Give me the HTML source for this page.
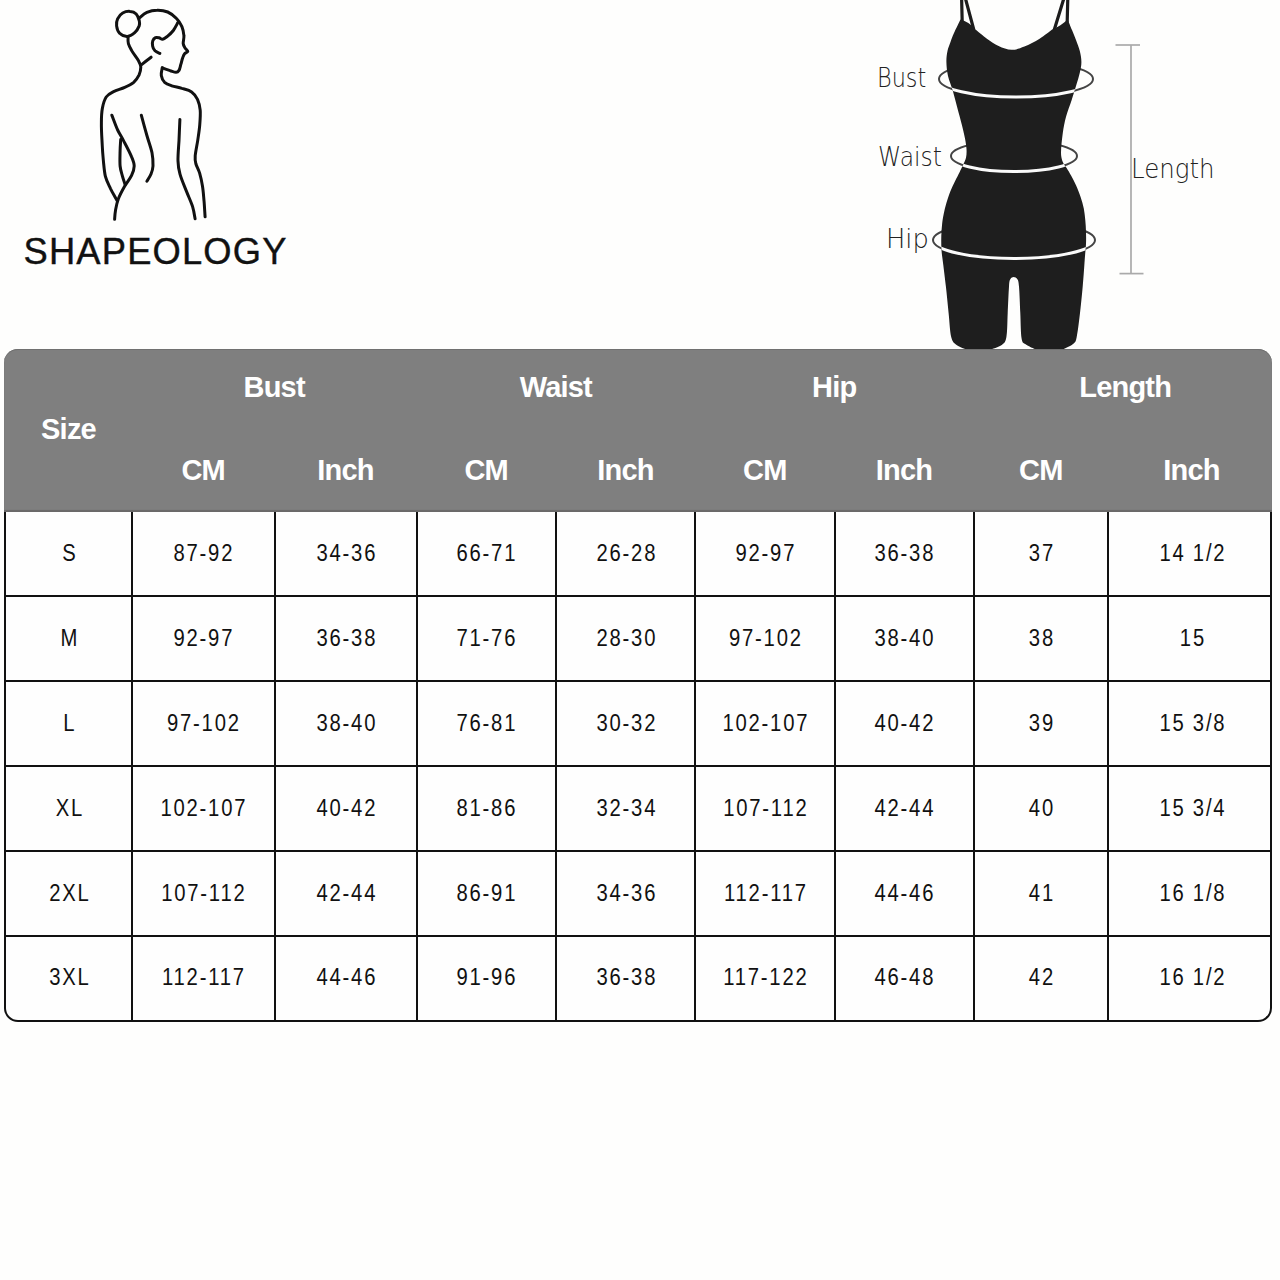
<!DOCTYPE html>
<html><head><meta charset="utf-8"><title>Shapeology Size Chart</title>
<style>
html,body{margin:0;padding:0;}
body{width:1280px;height:1280px;position:relative;overflow:hidden;background:#fefefd;font-family:"Liberation Sans",Arial,sans-serif;}
.abs{position:absolute;}
#logo{position:absolute;left:0;top:0;width:400px;height:300px;}
#brand{position:absolute;left:23.5px;top:231.7px;font-size:36.3px;letter-spacing:1.2px;color:#111;-webkit-text-stroke:0.4px #111;line-height:40px;white-space:nowrap;}
#figure{position:absolute;left:0;top:0;width:1280px;height:360px;}
.lbl{position:absolute;transform-origin:0 0;font-family:"DejaVu Sans",sans-serif;font-weight:200;font-size:26px;color:#222;line-height:30px;white-space:nowrap;}
#table{position:absolute;left:0;top:0;width:1280px;height:1280px;}
#thead{position:absolute;left:4px;top:349px;width:1268px;height:163px;background:#7f7f7f;border-radius:14px 14px 0 0;box-shadow:inset 0 1px 0 #707070, inset 0 -2px 1px #6a6969;}
#tbody{position:absolute;left:4px;top:512px;width:1264px;height:507.5px;border:2px solid #111;border-top:0;border-radius:0 0 14px 14px;background:#fefefe;}
.vl{position:absolute;top:512px;width:2px;height:508.5px;background:#111;}
.hl{position:absolute;left:5px;width:1266px;height:2px;background:#111;}
.th{position:absolute;width:120px;height:30px;line-height:30px;text-align:center;color:#fff;font-weight:700;font-size:29px;letter-spacing:-0.8px;}
.td{position:absolute;width:120px;height:30px;line-height:30px;text-align:center;color:#111;font-size:23px;letter-spacing:2px;text-indent:2px;transform:scaleX(0.88);}
</style></head>
<body>
<svg id="logo" viewBox="0 0 400 300" fill="none" stroke="#111" stroke-width="3" stroke-linecap="round" stroke-linejoin="round"><path d="M139.3,20.8 C138.8,18.8 137.7,15.6 136.2,14.0 C134.7,12.4 132.4,11.5 130.1,11.4 C127.9,11.2 124.8,11.8 122.7,13.0 C120.6,14.2 118.6,16.6 117.6,18.8 C116.6,20.9 116.3,23.5 116.6,25.9 C116.9,28.3 117.9,31.6 119.7,33.3 C121.5,35.1 124.9,36.5 127.4,36.4 C129.9,36.3 132.7,34.4 134.7,32.7 C136.7,31.0 138.4,27.9 139.2,25.9 C139.9,23.9 139.7,22.8 139.3,20.8Z"/><path d="M139.4,18.1 C140.6,17.1 143.9,13.7 146.9,12.4 C149.8,11.1 153.6,10.2 157.0,10.2 C160.5,10.1 164.4,10.6 167.7,12.0 C170.9,13.4 174.2,16.0 176.5,18.5 C178.9,20.9 180.7,23.8 181.9,26.6 C183.1,29.5 183.7,32.7 183.9,35.5 C184.2,38.4 183.1,41.4 183.2,43.5 C183.4,45.5 184.2,46.6 185.0,47.9 C185.7,49.2 187.9,50.3 187.8,51.3 C187.7,52.3 185.3,52.7 184.5,53.8 C183.6,55.0 183.2,56.4 182.6,58.1 C182.0,59.8 181.5,62.1 180.9,64.2 C180.3,66.2 179.8,69.0 179.0,70.4 C178.2,71.7 177.6,72.3 176.1,72.3 C174.7,72.4 172.5,71.4 170.2,70.7 C167.9,69.9 163.6,68.3 162.3,67.8"/><path d="M162.3,67.8 C162.1,69.1 160.9,73.0 161.3,75.4 C161.7,77.8 162.9,80.5 164.6,82.3 C166.4,84.0 168.9,84.8 171.8,85.8 C174.6,86.8 178.6,87.3 181.9,88.4 C185.2,89.4 189.0,90.1 191.6,91.9 C194.2,93.7 196.0,96.3 197.5,99.3 C198.9,102.4 199.8,105.8 200.2,110.2 C200.6,114.5 200.1,120.3 199.7,125.4 C199.3,130.5 198.4,135.5 197.7,140.6 C196.9,145.7 195.5,152.1 195.2,155.9 C194.9,159.7 195.1,160.6 195.8,163.5 C196.6,166.4 198.6,169.5 199.7,173.3 C200.8,177.1 201.8,181.6 202.5,186.3 C203.3,191.0 203.6,196.5 204.1,201.6 C204.5,206.6 204.9,214.3 205.1,216.8"/><path d="M177.9,22.5 C177.1,23.9 175.0,28.2 173.3,30.5 C171.5,32.8 169.2,34.9 167.4,36.4 C165.6,37.8 164.1,39.0 162.7,39.2 C161.3,39.4 160.3,38.1 159.1,37.8 C157.9,37.5 156.6,37.1 155.5,37.6 C154.5,38.1 153.3,39.4 152.8,40.8 C152.3,42.2 152.2,44.2 152.6,45.9 C152.9,47.6 153.8,49.5 155.0,50.8 C156.2,52.0 159.1,53.0 159.9,53.4"/><path d="M128.1,36.4 C128.1,37.6 127.7,41.2 128.4,43.7 C129.1,46.2 130.5,48.4 132.1,51.3 C133.8,54.1 137.1,58.1 138.5,60.7 C140.0,63.4 140.7,64.6 140.8,67.0 C140.8,69.4 140.1,72.6 139.0,75.2 C137.8,77.7 136.0,80.2 133.7,82.3 C131.3,84.3 128.1,85.8 124.7,87.3 C121.4,88.9 116.6,90.0 113.6,91.6 C110.5,93.2 108.1,94.2 106.2,97.0 C104.4,99.7 103.2,103.9 102.4,108.1 C101.6,112.4 101.4,116.9 101.4,122.3 C101.3,127.8 101.6,134.2 102.0,140.6 C102.3,147.1 102.8,155.0 103.4,160.9 C104.0,166.9 104.3,171.8 105.4,176.4 C106.6,181.0 108.6,184.5 110.5,188.6 C112.5,192.6 116.1,198.7 117.2,200.8"/><path d="M141.3,64.8 C142.9,63.5 149.5,58.4 151.1,57.2"/><path d="M111.8,115.2 C112.8,117.6 115.5,125.2 117.4,129.5 C119.4,133.7 121.1,136.1 123.5,140.6 C125.9,145.2 129.9,152.6 131.6,156.9 C133.4,161.1 134.2,162.9 134.2,166.0 C134.2,169.1 133.2,171.9 131.6,175.4 C130.0,178.8 126.7,182.6 124.5,186.5 C122.3,190.4 119.9,194.9 118.4,198.7 C116.9,202.6 116.2,206.3 115.6,209.7 C115.0,213.1 114.7,217.7 114.6,219.3"/><path d="M120.7,139.6 C120.6,141.5 120.2,146.4 120.1,150.8 C120.0,155.2 119.7,161.8 120.1,166.0 C120.5,170.3 121.7,173.3 122.5,176.4 C123.3,179.5 124.7,183.1 125.1,184.5"/><path d="M141.3,115.2 C142.2,118.6 145.1,129.3 146.9,135.5 C148.7,141.8 150.9,147.7 152.0,152.8 C153.0,157.9 153.1,162.4 153.0,166.0 C152.8,169.6 152.0,171.8 150.9,174.3 C149.9,176.9 147.6,180.1 146.9,181.2"/><path d="M179.9,119.5 C179.7,123.0 179.3,133.7 179.0,140.6 C178.6,147.5 177.8,155.4 178.0,160.9 C178.1,166.5 178.6,169.1 180.0,174.1 C181.4,179.2 184.4,186.0 186.5,191.4 C188.6,196.8 191.1,202.1 192.6,206.6 C194.0,211.2 194.7,216.8 195.1,218.8"/></svg>
<div id="brand">SHAPEOLOGY</div>

<svg id="figure" viewBox="0 0 1280 360">
<defs><clipPath id="bc"><path d="M960.5,19.5 C959.4,21.8 955.7,29.2 954.0,33.0 C952.3,36.8 951.6,39.0 950.5,42.0 C949.4,45.0 948.2,47.7 947.5,51.0 C946.8,54.3 946.3,57.8 946.4,62.0 C946.5,66.2 946.9,71.1 948.0,76.0 C949.1,80.9 951.5,86.1 953.0,91.4 C954.5,96.7 955.8,102.3 957.3,107.8 C958.8,113.3 960.4,119.1 961.7,124.2 C963.0,129.3 964.2,134.3 965.0,138.4 C965.8,142.5 966.3,145.8 966.5,149.0 C966.7,152.2 966.6,155.0 966.0,157.8 C965.4,160.6 963.8,163.2 962.8,165.6 C961.8,167.9 961.0,169.3 959.7,171.9 C958.4,174.5 956.6,178.0 955.0,181.2 C953.4,184.5 951.7,187.8 950.3,191.4 C948.9,195.0 947.5,199.3 946.4,203.1 C945.3,206.9 944.4,210.5 943.7,214.0 C943.0,217.5 942.5,220.5 942.1,224.2 C941.7,227.9 941.4,231.7 941.3,236.0 C941.2,240.3 941.2,245.2 941.5,250.0 C941.8,254.8 942.6,258.9 943.3,265.0 C944.0,271.1 945.0,278.6 945.9,286.6 C946.8,294.6 947.7,304.6 948.6,313.0 C949.5,321.4 949.9,331.7 951.2,337.0 C952.6,342.3 953.9,342.9 956.6,345.0 C959.3,347.1 965.4,349.0 967.2,349.8 L989.8,349.8 C991.8,349.0 998.9,347.1 1001.7,345.0 C1004.5,342.9 1005.4,342.3 1006.4,337.0 C1007.4,331.7 1007.3,321.4 1007.7,313.0 C1008.1,304.6 1008.6,292.2 1009.0,286.6 C1009.4,281.0 1009.5,280.9 1010.3,279.3 C1011.1,277.7 1012.5,277.0 1013.7,277.0 C1014.9,277.0 1016.5,277.7 1017.4,279.3 C1018.3,280.9 1018.5,281.0 1019.0,286.6 C1019.5,292.2 1019.9,304.4 1020.3,313.0 C1020.7,321.6 1020.7,333.2 1021.6,338.4 C1022.5,343.6 1023.2,342.4 1025.6,344.3 C1028.0,346.2 1034.4,348.9 1036.2,349.8 L1062.8,349.5 C1064.6,348.5 1071.1,345.8 1073.4,343.7 C1075.7,341.6 1075.6,342.1 1076.7,337.0 C1077.8,331.9 1079.0,321.4 1080.0,313.0 C1081.0,304.6 1081.9,295.4 1082.7,286.6 C1083.5,277.8 1084.2,267.1 1084.7,260.0 C1085.2,252.9 1085.8,248.4 1086.0,243.8 C1086.2,239.1 1086.1,235.9 1086.0,232.0 C1085.9,228.1 1085.7,224.2 1085.3,220.3 C1084.9,216.4 1084.5,212.5 1083.8,208.6 C1083.0,204.7 1081.9,200.8 1080.6,196.9 C1079.3,193.0 1077.6,188.7 1076.0,185.2 C1074.4,181.7 1072.8,178.7 1071.2,175.8 C1069.7,172.9 1067.9,170.1 1066.6,168.0 C1065.3,165.9 1064.2,165.0 1063.4,163.3 C1062.6,161.6 1061.9,160.0 1061.5,157.8 C1061.1,155.6 1060.9,154.1 1061.1,150.0 C1061.3,145.9 1062.0,138.6 1062.8,133.0 C1063.6,127.4 1064.6,122.1 1066.1,116.6 C1067.6,111.1 1069.9,105.3 1071.6,100.2 C1073.2,95.1 1074.6,90.6 1076.0,86.0 C1077.4,81.4 1078.9,76.8 1079.8,72.8 C1080.7,68.8 1081.4,65.6 1081.4,62.0 C1081.4,58.4 1080.7,54.7 1079.8,51.0 C1078.9,47.3 1077.3,43.5 1076.0,40.0 C1074.7,36.5 1073.4,33.4 1072.0,30.0 C1070.6,26.6 1068.4,21.2 1067.7,19.5 C1063,24 1058,27 1052.5,29.3 C1050.3,30.9 1044.3,35.8 1039.6,38.7 C1034.9,41.6 1029.1,44.8 1024.4,46.6 C1019.7,48.5 1015.8,49.9 1011.5,49.8 C1007.2,49.7 1002.7,47.8 998.6,45.9 C994.5,44.0 990.8,41.5 986.9,38.7 C983.0,35.9 977.2,30.9 975.2,29.3 C971,24 966,21 960.5,19.5 Z"/></clipPath></defs>
<g fill="none" stroke="#444" stroke-width="2"><ellipse cx="1016" cy="79" rx="77" ry="18"/><ellipse cx="1014" cy="156" rx="63" ry="15.5"/><ellipse cx="1014" cy="240" rx="81" ry="18.5"/></g>
<g stroke="#1c1c1c" stroke-width="3.2" stroke-linecap="round">
<line x1="961.6" y1="-2" x2="962.2" y2="22"/><line x1="965.3" y1="-2" x2="973.6" y2="29"/>
<line x1="1064" y1="-2" x2="1054.5" y2="29"/><line x1="1067.8" y1="-2" x2="1067.2" y2="22"/>
</g>
<path d="M960.5,19.5 C959.4,21.8 955.7,29.2 954.0,33.0 C952.3,36.8 951.6,39.0 950.5,42.0 C949.4,45.0 948.2,47.7 947.5,51.0 C946.8,54.3 946.3,57.8 946.4,62.0 C946.5,66.2 946.9,71.1 948.0,76.0 C949.1,80.9 951.5,86.1 953.0,91.4 C954.5,96.7 955.8,102.3 957.3,107.8 C958.8,113.3 960.4,119.1 961.7,124.2 C963.0,129.3 964.2,134.3 965.0,138.4 C965.8,142.5 966.3,145.8 966.5,149.0 C966.7,152.2 966.6,155.0 966.0,157.8 C965.4,160.6 963.8,163.2 962.8,165.6 C961.8,167.9 961.0,169.3 959.7,171.9 C958.4,174.5 956.6,178.0 955.0,181.2 C953.4,184.5 951.7,187.8 950.3,191.4 C948.9,195.0 947.5,199.3 946.4,203.1 C945.3,206.9 944.4,210.5 943.7,214.0 C943.0,217.5 942.5,220.5 942.1,224.2 C941.7,227.9 941.4,231.7 941.3,236.0 C941.2,240.3 941.2,245.2 941.5,250.0 C941.8,254.8 942.6,258.9 943.3,265.0 C944.0,271.1 945.0,278.6 945.9,286.6 C946.8,294.6 947.7,304.6 948.6,313.0 C949.5,321.4 949.9,331.7 951.2,337.0 C952.6,342.3 953.9,342.9 956.6,345.0 C959.3,347.1 965.4,349.0 967.2,349.8 L989.8,349.8 C991.8,349.0 998.9,347.1 1001.7,345.0 C1004.5,342.9 1005.4,342.3 1006.4,337.0 C1007.4,331.7 1007.3,321.4 1007.7,313.0 C1008.1,304.6 1008.6,292.2 1009.0,286.6 C1009.4,281.0 1009.5,280.9 1010.3,279.3 C1011.1,277.7 1012.5,277.0 1013.7,277.0 C1014.9,277.0 1016.5,277.7 1017.4,279.3 C1018.3,280.9 1018.5,281.0 1019.0,286.6 C1019.5,292.2 1019.9,304.4 1020.3,313.0 C1020.7,321.6 1020.7,333.2 1021.6,338.4 C1022.5,343.6 1023.2,342.4 1025.6,344.3 C1028.0,346.2 1034.4,348.9 1036.2,349.8 L1062.8,349.5 C1064.6,348.5 1071.1,345.8 1073.4,343.7 C1075.7,341.6 1075.6,342.1 1076.7,337.0 C1077.8,331.9 1079.0,321.4 1080.0,313.0 C1081.0,304.6 1081.9,295.4 1082.7,286.6 C1083.5,277.8 1084.2,267.1 1084.7,260.0 C1085.2,252.9 1085.8,248.4 1086.0,243.8 C1086.2,239.1 1086.1,235.9 1086.0,232.0 C1085.9,228.1 1085.7,224.2 1085.3,220.3 C1084.9,216.4 1084.5,212.5 1083.8,208.6 C1083.0,204.7 1081.9,200.8 1080.6,196.9 C1079.3,193.0 1077.6,188.7 1076.0,185.2 C1074.4,181.7 1072.8,178.7 1071.2,175.8 C1069.7,172.9 1067.9,170.1 1066.6,168.0 C1065.3,165.9 1064.2,165.0 1063.4,163.3 C1062.6,161.6 1061.9,160.0 1061.5,157.8 C1061.1,155.6 1060.9,154.1 1061.1,150.0 C1061.3,145.9 1062.0,138.6 1062.8,133.0 C1063.6,127.4 1064.6,122.1 1066.1,116.6 C1067.6,111.1 1069.9,105.3 1071.6,100.2 C1073.2,95.1 1074.6,90.6 1076.0,86.0 C1077.4,81.4 1078.9,76.8 1079.8,72.8 C1080.7,68.8 1081.4,65.6 1081.4,62.0 C1081.4,58.4 1080.7,54.7 1079.8,51.0 C1078.9,47.3 1077.3,43.5 1076.0,40.0 C1074.7,36.5 1073.4,33.4 1072.0,30.0 C1070.6,26.6 1068.4,21.2 1067.7,19.5 C1063,24 1058,27 1052.5,29.3 C1050.3,30.9 1044.3,35.8 1039.6,38.7 C1034.9,41.6 1029.1,44.8 1024.4,46.6 C1019.7,48.5 1015.8,49.9 1011.5,49.8 C1007.2,49.7 1002.7,47.8 998.6,45.9 C994.5,44.0 990.8,41.5 986.9,38.7 C983.0,35.9 977.2,30.9 975.2,29.3 C971,24 966,21 960.5,19.5 Z" fill="#1e1e1e"/>
<g fill="none" stroke="#fafafa" stroke-width="3" clip-path="url(#bc)"><path d="M939,79 A77,18 0 0 0 1093,79"/><path d="M951,156 A63,15.5 0 0 0 1077,156"/><path d="M933,240 A81,18.5 0 0 0 1095,240"/></g>
<g stroke="#aaa" stroke-width="1.7"><line x1="1131" y1="45" x2="1131" y2="273.6"/><line x1="1115.5" y1="45" x2="1140" y2="45"/><line x1="1119.5" y1="273.6" x2="1143.5" y2="273.6"/></g>
</svg>
<div class="lbl" style="left:877.4px;top:63.4px;transform:scaleX(0.86);">Bust</div>
<div class="lbl" style="left:877.5px;top:142.4px;transform:scaleX(0.9);">Waist</div>
<div class="lbl" style="left:886px;top:223.5px;transform:scaleX(0.99);">Hip</div>
<div class="lbl" style="left:1131px;top:153.5px;transform:scaleX(0.94);">Length</div>

<div id="thead"></div>
<div id="tbody"></div>
<div class="vl" style="left:131.0px"></div><div class="vl" style="left:273.5px"></div><div class="vl" style="left:415.5px"></div><div class="vl" style="left:555.0px"></div><div class="vl" style="left:694.0px"></div><div class="vl" style="left:833.5px"></div><div class="vl" style="left:972.5px"></div><div class="vl" style="left:1107.0px"></div><div class="hl" style="top:595.0px"></div><div class="hl" style="top:680.0px"></div><div class="hl" style="top:765.0px"></div><div class="hl" style="top:850.0px"></div><div class="hl" style="top:935.0px"></div>
<div class="th" style="left:8.5px;top:413.5px">Size</div><div class="th" style="left:214.2px;top:372px">Bust</div><div class="th" style="left:495.8px;top:372px">Waist</div><div class="th" style="left:774.2px;top:372px">Hip</div><div class="th" style="left:1065.2px;top:372px">Length</div><div class="th" style="left:143.2px;top:455px">CM</div><div class="th" style="left:285.5px;top:455px">Inch</div><div class="th" style="left:426.2px;top:455px">CM</div><div class="th" style="left:565.5px;top:455px">Inch</div><div class="th" style="left:704.8px;top:455px">CM</div><div class="th" style="left:844.0px;top:455px">Inch</div><div class="th" style="left:980.8px;top:455px">CM</div><div class="th" style="left:1131.5px;top:455px">Inch</div>
<div class="td" style="left:8.5px;top:537.8px">S</div><div class="td" style="left:143.2px;top:537.8px">87-92</div><div class="td" style="left:285.5px;top:537.8px">34-36</div><div class="td" style="left:426.2px;top:537.8px">66-71</div><div class="td" style="left:565.5px;top:537.8px">26-28</div><div class="td" style="left:704.8px;top:537.8px">92-97</div><div class="td" style="left:844.0px;top:537.8px">36-38</div><div class="td" style="left:980.8px;top:537.8px">37</div><div class="td" style="left:1132.0px;top:537.8px">14 1/2</div><div class="td" style="left:8.5px;top:622.5px">M</div><div class="td" style="left:143.2px;top:622.5px">92-97</div><div class="td" style="left:285.5px;top:622.5px">36-38</div><div class="td" style="left:426.2px;top:622.5px">71-76</div><div class="td" style="left:565.5px;top:622.5px">28-30</div><div class="td" style="left:704.8px;top:622.5px">97-102</div><div class="td" style="left:844.0px;top:622.5px">38-40</div><div class="td" style="left:980.8px;top:622.5px">38</div><div class="td" style="left:1132.0px;top:622.5px">15</div><div class="td" style="left:8.5px;top:707.5px">L</div><div class="td" style="left:143.2px;top:707.5px">97-102</div><div class="td" style="left:285.5px;top:707.5px">38-40</div><div class="td" style="left:426.2px;top:707.5px">76-81</div><div class="td" style="left:565.5px;top:707.5px">30-32</div><div class="td" style="left:704.8px;top:707.5px">102-107</div><div class="td" style="left:844.0px;top:707.5px">40-42</div><div class="td" style="left:980.8px;top:707.5px">39</div><div class="td" style="left:1132.0px;top:707.5px">15 3/8</div><div class="td" style="left:8.5px;top:792.5px">XL</div><div class="td" style="left:143.2px;top:792.5px">102-107</div><div class="td" style="left:285.5px;top:792.5px">40-42</div><div class="td" style="left:426.2px;top:792.5px">81-86</div><div class="td" style="left:565.5px;top:792.5px">32-34</div><div class="td" style="left:704.8px;top:792.5px">107-112</div><div class="td" style="left:844.0px;top:792.5px">42-44</div><div class="td" style="left:980.8px;top:792.5px">40</div><div class="td" style="left:1132.0px;top:792.5px">15 3/4</div><div class="td" style="left:8.5px;top:877.5px">2XL</div><div class="td" style="left:143.2px;top:877.5px">107-112</div><div class="td" style="left:285.5px;top:877.5px">42-44</div><div class="td" style="left:426.2px;top:877.5px">86-91</div><div class="td" style="left:565.5px;top:877.5px">34-36</div><div class="td" style="left:704.8px;top:877.5px">112-117</div><div class="td" style="left:844.0px;top:877.5px">44-46</div><div class="td" style="left:980.8px;top:877.5px">41</div><div class="td" style="left:1132.0px;top:877.5px">16 1/8</div><div class="td" style="left:8.5px;top:962.2px">3XL</div><div class="td" style="left:143.2px;top:962.2px">112-117</div><div class="td" style="left:285.5px;top:962.2px">44-46</div><div class="td" style="left:426.2px;top:962.2px">91-96</div><div class="td" style="left:565.5px;top:962.2px">36-38</div><div class="td" style="left:704.8px;top:962.2px">117-122</div><div class="td" style="left:844.0px;top:962.2px">46-48</div><div class="td" style="left:980.8px;top:962.2px">42</div><div class="td" style="left:1132.0px;top:962.2px">16 1/2</div>
</body></html>
